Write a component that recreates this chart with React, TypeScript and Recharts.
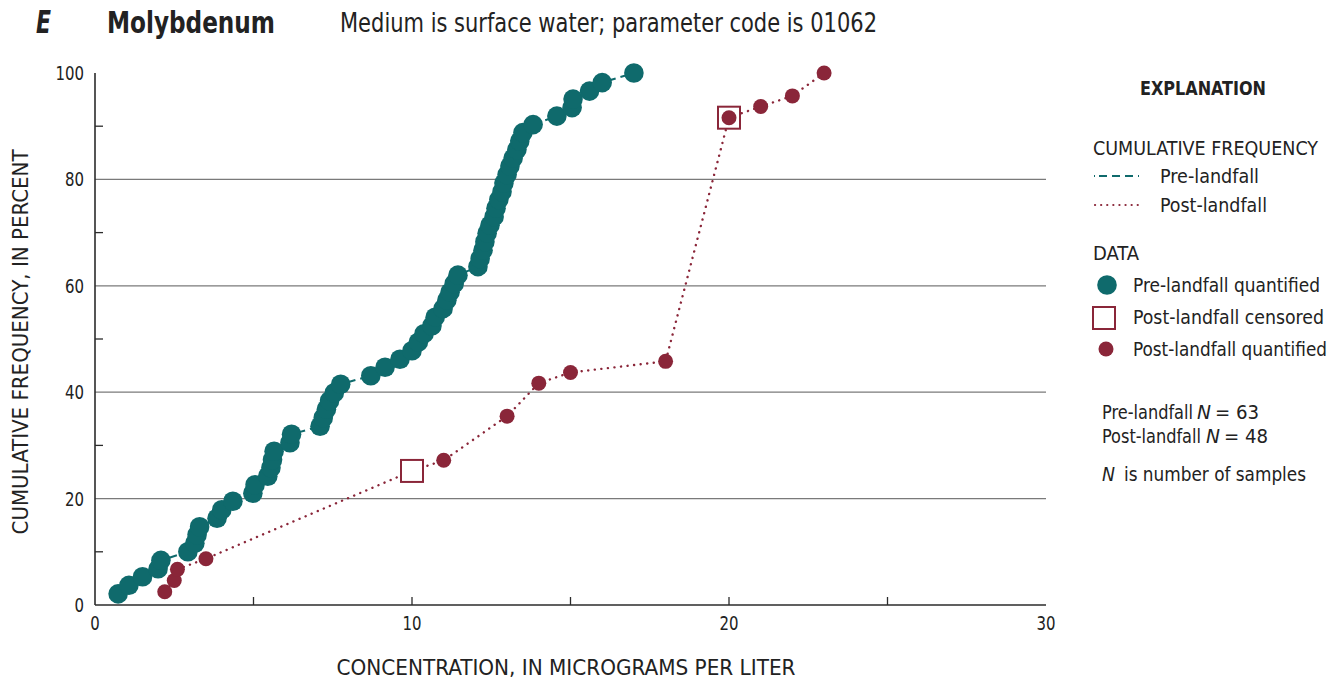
import React from "react";
import {
  ComposedChart,
  Line,
  Scatter,
  XAxis,
  YAxis,
  ReferenceLine,
} from "recharts";

// Molybdenum, surface water (01062): cumulative frequency, pre- vs post-landfall

const preConc = [
  0.73, 1.07, 1.5, 1.99, 2.08, 2.93, 3.15, 3.22, 3.3, 3.85, 4.0, 4.35, 4.98, 5.05, 5.45, 5.55,
  5.6, 5.65, 6.15, 6.2, 7.1, 7.2, 7.3, 7.4, 7.55, 7.75, 8.7, 9.15, 9.62, 10.0, 10.2, 10.38,
  10.63, 10.73, 10.98, 11.1, 11.2, 11.33, 11.45, 12.08, 12.15, 12.24, 12.3, 12.37, 12.46, 12.59,
  12.65, 12.74, 12.84, 12.9, 13.0, 13.09, 13.19, 13.31, 13.4, 13.5, 13.82, 14.57, 15.05, 15.08,
  15.6, 16.0, 17.0,
];
const preFreq = [
  2.1, 3.7, 5.3, 6.8, 8.4, 10.0, 11.6, 13.2, 14.7, 16.3, 17.9, 19.5, 21.0, 22.6, 24.2, 25.8,
  27.3, 28.9, 30.5, 32.1, 33.6, 35.2, 36.8, 38.4, 39.9, 41.5, 43.1, 44.7, 46.2, 47.8, 49.4, 51.0,
  52.5, 54.1, 55.7, 57.3, 58.8, 60.4, 62.0, 63.6, 65.1, 66.7, 68.3, 69.9, 71.4, 73.0, 74.6, 76.2,
  77.7, 79.3, 80.9, 82.5, 84.0, 85.6, 87.2, 88.8, 90.3, 91.9, 93.5, 95.1, 96.6, 98.2, 100,
];

const postConc = [2.2, 2.5, 2.6, 3.5, 10, 11, 13, 14, 15, 18, 20, 21, 22, 23];
const postFreq = [2.5, 4.6, 6.7, 8.7, 25.2, 27.2, 35.5, 41.7, 43.7, 45.8, 91.6, 93.7, 95.7, 100];
const postCensored = [false, false, false, false, true, false, false, false, false, false, true, false, false, false];
const postQuantified = [true, true, true, true, false, true, true, true, true, true, true, true, true, true];

const xTicks = [0, 5, 10, 15, 20, 25, 30];
const xLabelled = [0, 10, 20, 30];
const yTicks = [0, 10, 20, 30, 40, 50, 60, 70, 80, 90, 100];
const yLabelled = [0, 20, 40, 60, 80, 100];
const gridValues = [20, 40, 60, 80];

const TEAL = "#0f6a6c";
const MAROON = "#8a2639";
const FRAME = "#2b2b2b";
const FONT = "'Liberation Sans Narrow', 'DejaVu Sans Condensed', 'Arial Narrow', sans-serif";

const pre = preConc.map((x, i) => ({ x, y: preFreq[i] }));
const post = postConc.map((x, i) => ({ x, y: postFreq[i] }));
const postCens = post.filter((_, i) => postCensored[i]);
const postQuant = post.filter((_, i) => postQuantified[i]);

function BottomTick({ x, y, payload }: any) {
  const v = payload.value;
  return (
    <g>
      {v > 0 && v < 30 && <line x1={x} y1={y} x2={x} y2={y - 8} stroke={FRAME} strokeWidth={1.3} />}
      {xLabelled.includes(v) && (
        <text x={x} y={y + 25} textAnchor="middle" fontSize={20} fill="#222" fontFamily={FONT}
          textLength={String(v).length * 9.5} lengthAdjust="spacingAndGlyphs">
          {v}
        </text>
      )}
    </g>
  );
}

function TopTick({ x, y, payload }: any) {
  const v = payload.value;
  if (v <= 0 || v >= 30) return null;
  return <line x1={x} y1={y} x2={x} y2={y + 8} stroke={FRAME} strokeWidth={1.3} />;
}

function LeftTick({ x, y, payload }: any) {
  const v = payload.value;
  return (
    <g>
      {v % 20 === 10 && <line x1={x} y1={y} x2={x + 8} y2={y} stroke={FRAME} strokeWidth={1.3} />}
      {yLabelled.includes(v) && (
        <text x={x - 11} y={y} dy="0.35em" textAnchor="end" fontSize={20} fill="#222" fontFamily={FONT}
          textLength={String(v).length * 9.5} lengthAdjust="spacingAndGlyphs">
          {v}
        </text>
      )}
    </g>
  );
}

function RightTick({ x, y, payload }: any) {
  const v = payload.value;
  if (v % 20 !== 10) return null;
  return <line x1={x} y1={y} x2={x - 8} y2={y} stroke={FRAME} strokeWidth={1.3} />;
}

const PreDot = (p: any) => <circle cx={p.cx} cy={p.cy} r={9.8} fill={TEAL} />;
const PostDot = (p: any) => <circle cx={p.cx} cy={p.cy} r={7.5} fill={MAROON} />;
const PostSquare = (p: any) => (
  <rect x={p.cx - 11} y={p.cy - 11} width={22} height={22} fill="#fff" stroke={MAROON} strokeWidth={2} />
);

// text squeezed to the width measured in the reference
function T({ x, y, w, size, bold, italic, anchor, rotate, children }: any) {
  return (
    <text
      x={x}
      y={y}
      textLength={w}
      lengthAdjust="spacingAndGlyphs"
      textAnchor={anchor || "start"}
      dominantBaseline="central"
      fontSize={size}
      fontWeight={bold ? "bold" : "normal"}
      fontStyle={italic ? "italic" : "normal"}
      fontFamily={FONT}
      fill="#222"
      transform={rotate ? `rotate(-90 ${x} ${y})` : undefined}
    >
      {children}
    </text>
  );
}

function Overlay() {
  return (
    <svg
      width={1344}
      height={686}
      style={{ position: "absolute", left: 0, top: 0, pointerEvents: "none" }}
    >
      <T x={36} y={22} w={15} size={32} bold italic>E</T>
      <T x={107} y={22} w={168} size={30} bold>Molybdenum</T>
      <T x={340} y={23} w={537} size={26}>Medium is surface water; parameter code is 01062</T>

      <T x={20} y={342} w={385} size={22} anchor="middle" rotate>
        CUMULATIVE FREQUENCY, IN PERCENT
      </T>
      <T x={566} y={667} w={459} size={22} anchor="middle">
        CONCENTRATION, IN MICROGRAMS PER LITER
      </T>

      {/* explanation */}
      <T x={1203} y={88} w={126} size={20} bold anchor="middle">EXPLANATION</T>
      <T x={1093} y={148} w={225} size={20}>CUMULATIVE FREQUENCY</T>
      <line x1={1094} y1={176} x2={1143} y2={176} stroke={TEAL} strokeWidth={2} strokeDasharray="1 4 8 5 8 5 8 5" />
      <T x={1160} y={176} w={99} size={20}>Pre-landfall</T>
      <line
        x1={1095}
        y1={205}
        x2={1143}
        y2={205}
        stroke={MAROON}
        strokeWidth={2.2}
        strokeDasharray="0.1 6"
        strokeLinecap="round"
      />
      <T x={1160} y={205} w={107} size={20}>Post-landfall</T>
      <T x={1093} y={253} w={46} size={20}>DATA</T>
      <circle cx={1107} cy={285} r={9.8} fill={TEAL} />
      <T x={1133} y={285} w={187} size={20}>Pre-landfall quantified</T>
      <rect x={1093} y={307} width={22} height={22} fill="#fff" stroke={MAROON} strokeWidth={2} />
      <T x={1133} y={317} w={191} size={20}>Post-landfall censored</T>
      <circle cx={1106} cy={349} r={7.5} fill={MAROON} />
      <T x={1133} y={349} w={194} size={19}>Post-landfall quantified</T>

      <T x={1102} y={412} w={91} size={19}>Pre-landfall</T>
      <T x={1197} y={412} w={14} size={19} italic>N</T>
      <T x={1215} y={412} w={44} size={19}>= 63</T>
      <T x={1102} y={436} w={99} size={19}>Post-landfall</T>
      <T x={1206} y={436} w={14} size={19} italic>N</T>
      <T x={1224} y={436} w={44} size={19}>= 48</T>
      <T x={1102} y={474} w={13} size={19} italic>N</T>
      <T x={1124} y={474} w={182} size={19}>is number of samples</T>
    </svg>
  );
}

export default function App() {
  return (
    <div style={{ position: "absolute", left: 0, top: 0, width: 1344, height: 686, background: "#fff" }}>
      <ComposedChart
        width={1344}
        height={686}
        margin={{ top: 73, right: 298, bottom: 41, left: 35 }}
      >
        <XAxis
          dataKey="x"
          type="number"
          domain={[0, 30]}
          ticks={xTicks}
          tick={<BottomTick />}
          tickLine={false}
          tickSize={0}
          tickMargin={0}
          height={40}
          axisLine={{ stroke: FRAME, strokeWidth: 1.6 }}
        />
        <XAxis
          xAxisId="top"
          orientation="top"
          dataKey="x"
          type="number"
          domain={[0, 30]}
          ticks={xTicks}
          tick={<TopTick />}
          tickLine={false}
          tickSize={0}
          tickMargin={0}
          height={0}
          axisLine={{ stroke: FRAME, strokeWidth: 1.6 }}
        />
        <YAxis
          dataKey="y"
          type="number"
          domain={[0, 100]}
          ticks={yTicks}
          tick={<LeftTick />}
          tickLine={false}
          tickSize={0}
          tickMargin={0}
          width={60}
          axisLine={{ stroke: FRAME, strokeWidth: 1.6 }}
        />
        <YAxis
          yAxisId="right"
          orientation="right"
          dataKey="y"
          type="number"
          domain={[0, 100]}
          ticks={yTicks}
          tick={<RightTick />}
          tickLine={false}
          tickSize={0}
          tickMargin={0}
          width={0}
          axisLine={{ stroke: FRAME, strokeWidth: 1.6 }}
        />
        {gridValues.map((g) => (
          <ReferenceLine key={g} y={g} stroke="#7a7a7a" strokeWidth={1.3} />
        ))}
        <Line
          data={pre}
          dataKey="y"
          type="linear"
          stroke={TEAL}
          strokeWidth={2}
          strokeDasharray="8 5"
          dot={false}
          activeDot={false}
          isAnimationActive={false}
        />
        <Line
          data={post}
          dataKey="y"
          type="linear"
          stroke={MAROON}
          strokeWidth={2.4}
          strokeDasharray="0.1 6.5"
          strokeLinecap="round"
          dot={false}
          activeDot={false}
          isAnimationActive={false}
        />
        <Scatter data={pre} dataKey="y" shape={PreDot} isAnimationActive={false} />
        <Scatter data={postCens} dataKey="y" shape={PostSquare} isAnimationActive={false} />
        <Scatter data={postQuant} dataKey="y" shape={PostDot} isAnimationActive={false} />
      </ComposedChart>
      <Overlay />
    </div>
  );
}
